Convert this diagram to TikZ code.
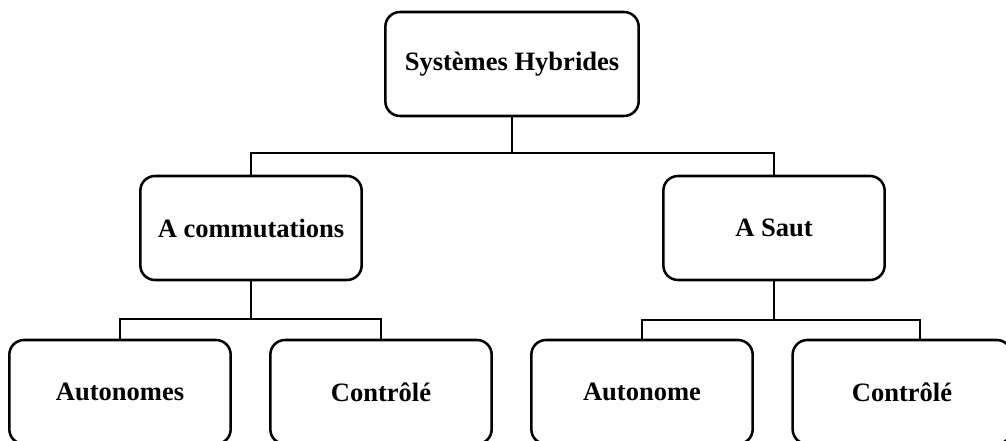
\documentclass[tikz,border=0pt]{standalone}
\usepackage{fontspec}
\setmainfont{Liberation Serif}
\usetikzlibrary{positioning}

\begin{document}
\begin{tikzpicture}[
  x=0.75pt,y=-0.75pt,
  every node/.style={font=\fontsize{19.9}{24}\selectfont\bfseries},
  box/.style={draw,line width=1.9pt,rounded corners=11pt,minimum width=166pt,
              minimum height=78pt,align=center},
  link/.style={line width=1.6pt}
]
\clip (0,0) rectangle (1006,441);
\node[box,minimum width=190pt] (sys) at (512,64) {Systèmes Hybrides};
\node[box] (com) at (251,228) {A commutations};
\node[box] (saut) at (774,228) {A Saut};
\node[box] (auto1) at (120,392) {Autonomes};
\node[box] (ctrl1) at (381,392) {Contrôlé};
\node[box] (auto2) at (642,392) {Autonome};
\node[box,minimum width=164pt] (ctrl2) at (902,392) {Contrôlé};
\coordinate (top) at (512,153);
\draw[link] (sys.south) -- (top);
\draw[link] (com.north) |- (top) -| (saut.north);
\coordinate (left) at (251,319);
\draw[link] (com.south) -- (left);
\draw[link] (auto1.north) |- (left) -| (ctrl1.north);
\coordinate (right) at (774,320);
\coordinate (rend) at (920,320);
\draw[link] (saut.south) -- (right);
\draw[link] (auto2.north) |- (rend) -- (rend |- ctrl2.north);
\end{tikzpicture}
\end{document}
